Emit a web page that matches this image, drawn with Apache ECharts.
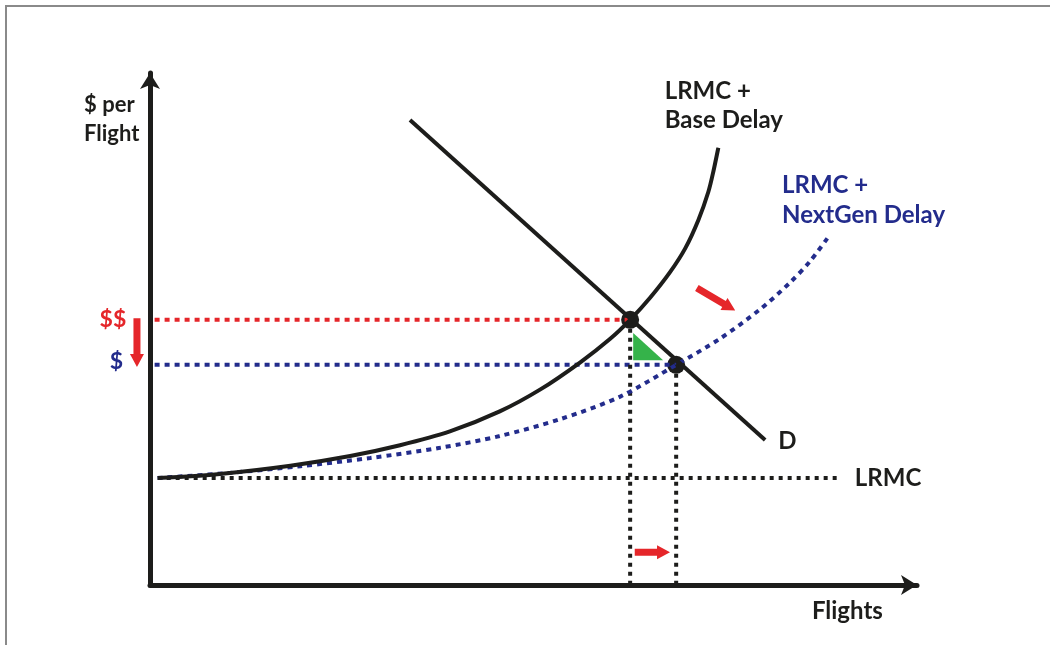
<!DOCTYPE html>
<html><head><meta charset="utf-8">
<script src="https://cdn.jsdelivr.net/npm/echarts@6/dist/echarts.min.js"></script>
<style>html,body{margin:0;padding:0;background:#fff}#c{width:1050px;height:645px}</style>
</head><body><div id="c"></div>
<script>
// ---- data (x: flights 0..100, y: $ per flight 0..100) ----
const baseDelayCurve = [[1.0,20.9],[9.1,21.7],[18.3,23.3],[26.1,25.2],[32.6,27.3],[39.1,30.0],[45.6,33.9],[50.9,38.2],[56.1,43.5],[60.0,48.1],[62.6,51.8],[65.2,56.1],[67.8,61.1],[69.8,65.8],[71.5,71.3],[72.8,76.8],[73.5,81.1],[74.1,85.4]];
const nextGenCurve   = [[1.0,20.9],[10.4,21.9],[19.6,23.2],[28.7,24.8],[37.8,26.8],[45.6,29.1],[53.5,32.4],[61.3,36.8],[68.6,43.0],[74.3,48.1],[79.5,53.8],[83.4,59.0],[86.1,63.3],[88.4,67.9]];
const demandLine     = [[33.9,90.8],[80.2,28.3]];
const lrmcLevel      = 20.9;
const lrmcRange      = [1.0, 90.0];
const priceHigh      = 51.8;   // $$
const priceLow       = 43.0;   // $
const qBase          = 62.6;   // equilibrium flights with base delay
const qNextGen       = 68.6;   // equilibrium flights with NextGen delay
const guideStartX    = 0.6;
const gainTriangle   = [[63.0,49.2],[63.0,43.9],[66.9,43.9]];
const shiftArrows    = [[-1.7,52.1,-1.7,42.6],[71.3,58.0,76.3,53.6],[63.2,6.4,67.8,6.4]];
const labelTexts     = ['$ per','Flight','$$','$','LRMC +','Base Delay','LRMC +','NextGen Delay','D','LRMC','Flights'];
const labelAnchors   = [[-8.6,93.7],[-8.6,88.1],[-3.1,51.8],[-3.5,43.6],[67.1,96.5],[67.1,90.8],[82.4,78.1],[82.4,72.3],[81.9,28.1],[91.9,20.9],[86.3,-5.1]];

const BLACK='#1d1d1b', RED='#e5262a', BLUE='#232c8c', GREEN='#35b34a';
const labelStyle = [
  {c:BLACK,a:'left',s:22},{c:BLACK,a:'left',s:22},{c:RED,a:'right',s:23},{c:BLUE,a:'right',s:23},
  {c:BLACK,a:'left',s:24},{c:BLACK,a:'left',s:24},{c:BLUE,a:'left',s:24},{c:BLUE,a:'left',s:24},
  {c:BLACK,a:'left',s:24},{c:BLACK,a:'left',s:24},{c:BLACK,a:'left',s:24}];

const chart = echarts.init(document.getElementById('c'), null, {renderer:'canvas'});
const dotted = (color, w, dash) => ({color, width:w, type:dash, cap:'butt'});
const hiddenAxisBits = {axisTick:{show:false}, axisLabel:{show:false}, splitLine:{show:false}};

chart.setOption({
  animation:false,
  backgroundColor:'#fff',
  grid:{left:150, right:133, top:73, bottom:60},
  xAxis:{type:'value', min:0, max:100, ...hiddenAxisBits,
    axisLine:{show:true, symbol:['none','arrow'], symbolSize:[15,16], lineStyle:{color:BLACK, width:5}}},
  yAxis:{type:'value', min:0, max:100, ...hiddenAxisBits,
    axisLine:{show:true, symbol:['none','arrow'], symbolSize:[15,16], lineStyle:{color:BLACK, width:5}}},
  graphic:[
    {type:'line', shape:{x1:5,y1:6,x2:1050,y2:6}, style:{stroke:'#8a8a8a', lineWidth:2}},
    {type:'line', shape:{x1:6,y1:5,x2:6,y2:645}, style:{stroke:'#8a8a8a', lineWidth:2}}
  ],
  series:[
    {type:'line', data:lrmcRange.map(x=>[x,lrmcLevel]), symbol:'none', lineStyle:dotted(BLACK,4,[4,5])},
    {type:'line', data:[[guideStartX,priceHigh],[qBase,priceHigh]], symbol:'none', lineStyle:dotted(RED,4,[5,5])},
    {type:'line', data:[[guideStartX,priceLow],[qNextGen,priceLow]], symbol:'none', lineStyle:dotted(BLUE,4,[5,5])},
    {type:'line', data:[[qBase,priceHigh],[qBase,0]], symbol:'none', lineStyle:dotted(BLACK,4,[4,5])},
    {type:'line', data:[[qNextGen,priceLow],[qNextGen,0]], symbol:'none', lineStyle:dotted(BLACK,4,[4,5])},
    {type:'custom', clip:false, data:[0], renderItem:(p,api)=>({type:'polygon',
      shape:{points:gainTriangle.map(v=>api.coord(v))}, style:{fill:GREEN}})},
    {type:'line', data:nextGenCurve, smooth:0.3, symbol:'none', lineStyle:dotted(BLUE,4,[5,5])},
    {type:'line', data:baseDelayCurve, smooth:0.3, symbol:'none', lineStyle:{color:BLACK, width:4}},
    {type:'line', data:demandLine, symbol:'none', lineStyle:{color:BLACK, width:4}},
    {type:'scatter', data:[[qBase,priceHigh],[qNextGen,priceLow]], symbolSize:18, itemStyle:{color:BLACK, opacity:1}},
    {type:'custom', clip:false, data:shiftArrows, renderItem:(p,api)=>{
      const a=api.coord([api.value(0),api.value(1)]), b=api.coord([api.value(2),api.value(3)]);
      const dx=b[0]-a[0], dy=b[1]-a[1], L=Math.hypot(dx,dy), ux=dx/L, uy=dy/L, nx=-uy, ny=ux;
      const hw=3.5, hh=7, hl=13, c=[b[0]-ux*hl,b[1]-uy*hl];
      return {type:'polygon', shape:{points:[
        [a[0]+nx*hw,a[1]+ny*hw],[c[0]+nx*hw,c[1]+ny*hw],[c[0]+nx*hh,c[1]+ny*hh],b,
        [c[0]-nx*hh,c[1]-ny*hh],[c[0]-nx*hw,c[1]-ny*hw],[a[0]-nx*hw,a[1]-ny*hw]]}, style:{fill:RED}};
    }},
    {type:'custom', clip:false, data:labelAnchors, renderItem:(p,api)=>{
      const i=p.dataIndex, pt=api.coord([api.value(0),api.value(1)]), st=labelStyle[i];
      return {type:'text', x:pt[0], y:pt[1], style:{text:labelTexts[i], fill:st.c,
        font:'bold '+st.s+'px Lato, sans-serif', align:st.a, verticalAlign:'middle'}};
    }}
  ]
});
</script></body></html>
